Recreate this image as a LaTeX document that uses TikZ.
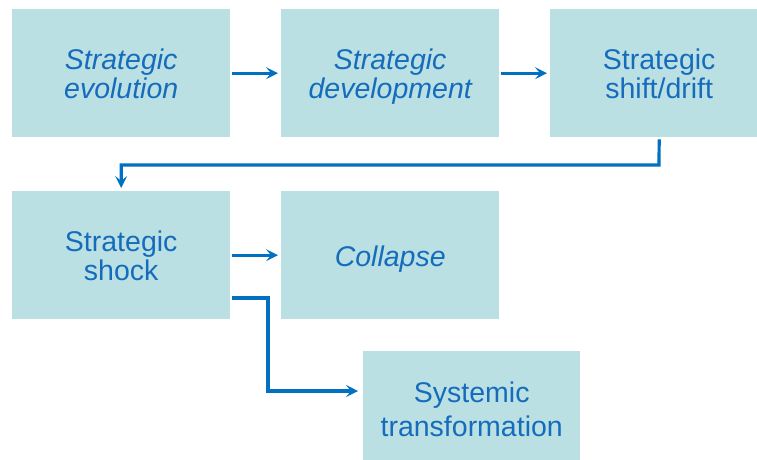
\documentclass[tikz,border=0pt]{standalone}
\usepackage{fontspec}
\setmainfont{Liberation Sans}
\usetikzlibrary{arrows.meta}
\definecolor{boxfill}{RGB}{186,224,227}
\definecolor{txtblue}{RGB}{22,108,188}
\definecolor{arrblue}{RGB}{0,112,192}
\newcommand{\topln}{\rule{0pt}{28.6pt}}
\newcommand{\botln}{\rule[-7pt]{0pt}{7pt}}
\tikzset{
  box/.style={fill=boxfill, draw=none, anchor=north west, minimum width=218pt, minimum height=128pt, inner sep=0pt, text=txtblue, align=center, font=\fontsize{28.5}{29}\selectfont},
  conn/.style={draw=arrblue, line width=3.2pt, -{Stealth[length=12pt,width=12pt,inset=5pt]}, shorten <=2pt, shorten >=3pt}
}
\begin{document}
\begin{tikzpicture}[x=1pt,y=-1pt]
\useasboundingbox (0,0) rectangle (757,459);
\begin{scope}
\clip (0,0) rectangle (757,459);
\node[box] (b1) at (12,9) {\itshape\topln Strategic\\\itshape evolution\botln};
\node[box] (b2) at (281,9) {\itshape\topln Strategic\\\itshape development\botln};
\node[box] (b3) at (550,9) {\topln Strategic\\shift/drift\botln};
\node[box] (b4) at (12,191) {\topln Strategic\\shock\botln};
\node[box] (b5) at (281,191) {\itshape\topln Collapse\botln};
\node[box, minimum width=217pt, minimum height=114pt, font=\fontsize{28.5}{34}\selectfont] (b6) at (363,351) {\topln Systemic\\transformation\botln};
\end{scope}
\coordinate (m) at (659,165);
\coordinate (s) at (230,298);
\coordinate (k) at (268,391);
\draw[conn] (b1.east) -- (b2.west);
\draw[conn] (b2.east) -- (b3.west);
\draw[conn] (b3.south) -- (m) -| (b4.north);
\draw[conn] (b4.east) -- (b5.west);
\draw[conn, shorten >=5pt] (s) -| (k) -- (k -| b6.west);
\end{tikzpicture}
\end{document}
